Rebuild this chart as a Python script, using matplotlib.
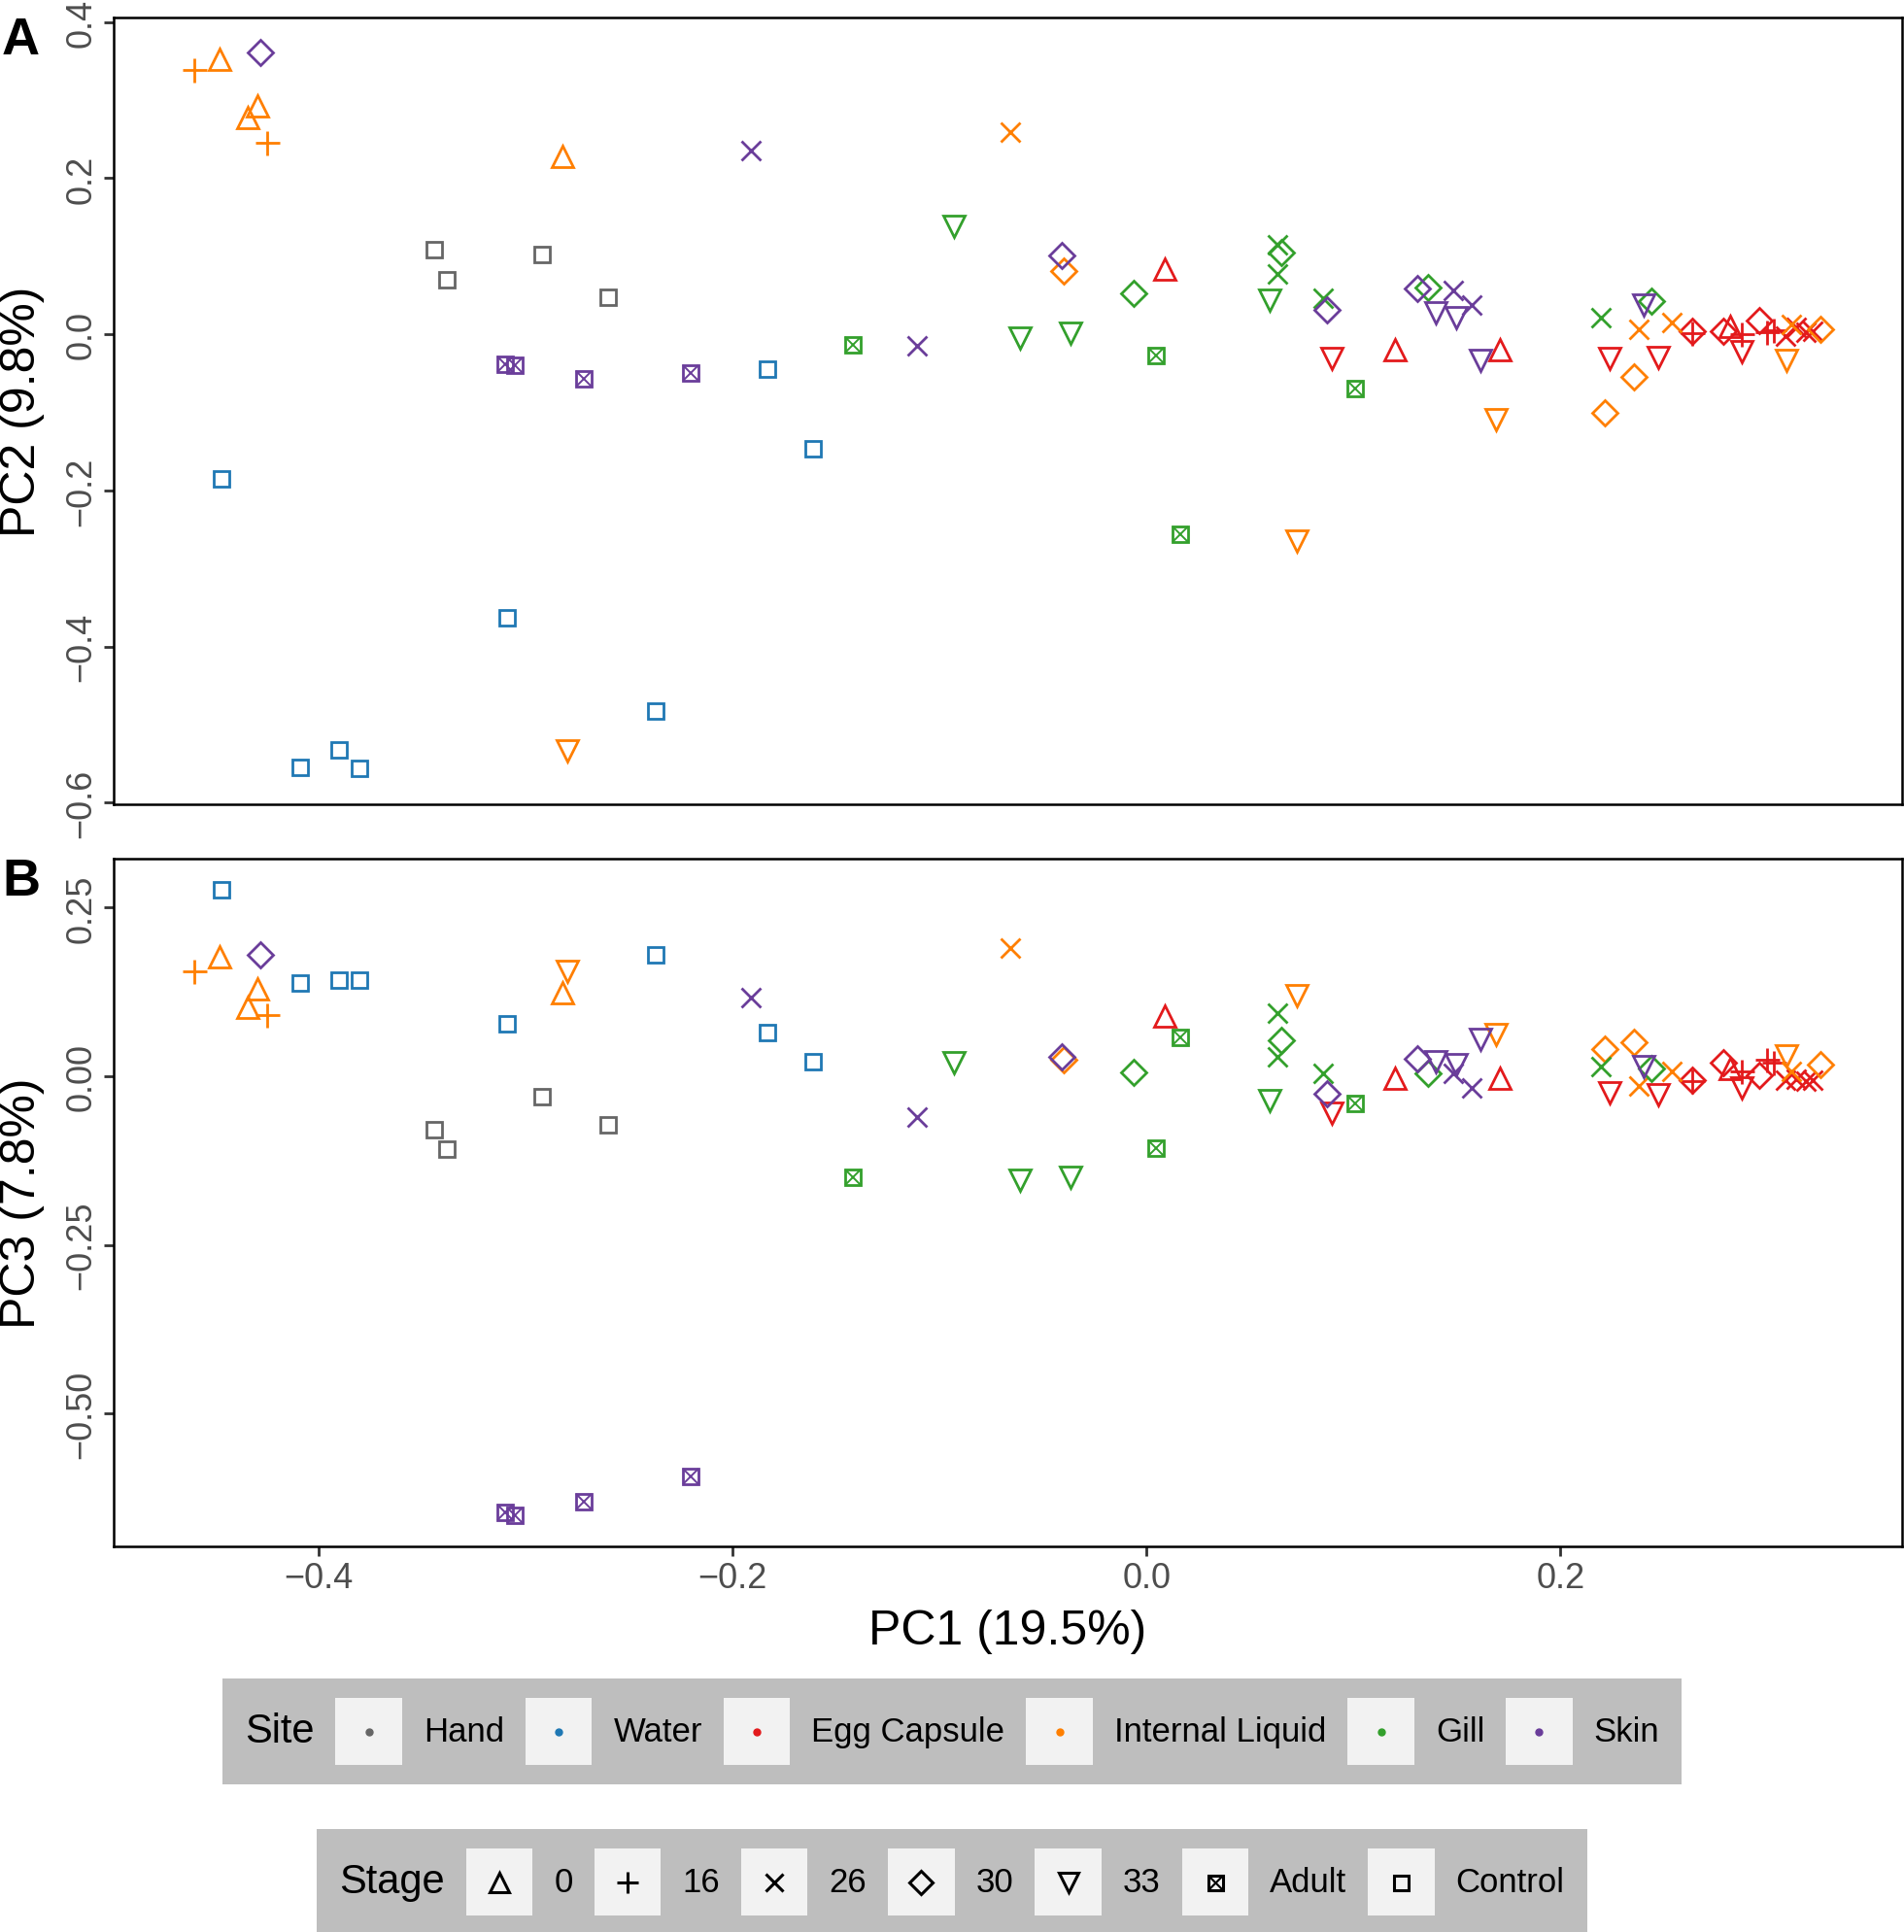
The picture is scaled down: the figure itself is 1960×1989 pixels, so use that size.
import matplotlib

matplotlib.use("Agg")

import matplotlib.pyplot as plt
from matplotlib.patches import Rectangle


plt.rcParams["font.family"] = ["Liberation Sans", "DejaVu Sans"]


# ============================================================
# Data
# ============================================================

site = (
    ["Hand"] * 4
    + ["Water"] * 8
    + ["Egg Capsule"] * 19
    + ["Internal Liquid"] * 18
    + ["Gill"] * 16
    + ["Skin"] * 16
)

stage = [
    # Hand
    "Control", "Control", "Control", "Control",
    # Water
    "Control", "Control", "Control", "Control",
    "Control", "Control", "Control", "Control",
    # Egg Capsule
    "0", "0", "0", "0", "33", "33", "33", "33", "30", "16",
    "30", "16", "30", "16", "16", "26", "26", "26", "26",
    # Internal Liquid
    "16", "0", "0", "0", "16", "0", "33", "26", "30",
    "33", "33", "30", "30", "26", "26", "33", "26", "30",
    # Gill
    "33", "Adult", "33", "33", "30", "Adult", "Adult", "33",
    "26", "30", "26", "26", "Adult", "30", "26", "30",
    # Skin
    "30", "Adult", "Adult", "Adult", "Adult", "26", "26", "30",
    "30", "30", "26", "26", "33", "33", "33", "33",
]

pc1 = [
    -0.344, -0.338, -0.292, -0.260,
    -0.447, -0.409, -0.390, -0.380, -0.309, -0.237, -0.183, -0.161,
    0.009, 0.120, 0.1705, 0.282, 0.0896, 0.2238, 0.2473, 0.2875, 0.2635, 0.2635,
    0.2785, 0.2874, 0.296, 0.2999, 0.303, 0.3085, 0.314, 0.3186, 0.3218,
    -0.460, -0.4476, -0.4296, -0.434, -0.425, -0.282, -0.280, -0.066, -0.040,
    0.0727, 0.1687, 0.2214, 0.2357, 0.2376, 0.2536, 0.3093, 0.3116, 0.3257,
    -0.093, -0.1418, -0.061, -0.0365, -0.006, 0.0046, 0.0165, 0.0595,
    0.0631, 0.065, 0.0631, 0.0855, 0.1006, 0.1358, 0.2193, 0.244,
    -0.428, -0.310, -0.305, -0.272, -0.220, -0.191, -0.111, -0.041,
    0.087, 0.1307, 0.148, 0.1573, 0.1397, 0.1498, 0.1615, 0.240,
]

pc2 = [
    0.108, 0.070, 0.102, 0.047,
    -0.185, -0.555, -0.532, -0.556, -0.363, -0.483, -0.044, -0.146,
    0.083, -0.020, -0.020, 0.010, -0.031, -0.031, -0.029, -0.022, 0.004, 0.001,
    0.004, 0.000, 0.018, 0.003, 0.005, -0.002, 0.009, 0.003, 0.004,
    0.339, 0.353, 0.293, 0.2775, 0.245, 0.228, -0.534, 0.259, 0.081,
    -0.265, -0.109, -0.100, -0.054, 0.007, 0.015, -0.033, 0.013, 0.006,
    0.138, -0.014, -0.005, 0.002, 0.052, -0.027, -0.256, 0.044,
    0.1145, 0.105, 0.078, 0.046, -0.070, 0.0605, 0.021, 0.042,
    0.361, -0.038, -0.040, -0.0565, -0.050, 0.2356, -0.015, 0.101,
    0.0315, 0.0585, 0.0564, 0.0377, 0.0274, 0.0212, -0.033, 0.0377,
]

pc3 = [
    -0.079, -0.108, -0.030, -0.072,
    0.277, 0.138, 0.142, 0.142, 0.078, 0.180, 0.065, 0.022,
    0.090, -0.003, -0.003, 0.012, -0.055, -0.024, -0.027, -0.017, -0.005, -0.007,
    0.020, 0.007, 0.002, 0.024, 0.020, -0.005, -0.004, -0.007, -0.006,
    0.155, 0.177, 0.129, 0.103, 0.091, 0.124, 0.156, 0.190, 0.024,
    0.120, 0.062, 0.041, 0.050, -0.015, 0.007, 0.031, 0.007, 0.017,
    0.020, -0.150, -0.154, -0.150, 0.006, -0.106, 0.057, -0.036,
    0.094, 0.053, 0.029, 0.005, -0.040, 0.005, 0.015, 0.012,
    0.180, -0.647, -0.651, -0.631, -0.594, 0.117, -0.060, 0.029,
    -0.026, 0.026, 0.005, -0.017, 0.022, 0.017, 0.055, 0.014,
]

site_order = ["Hand", "Water", "Egg Capsule", "Internal Liquid", "Gill", "Skin"]
site_colors = ["#666666", "#1f78b4", "#e31a1c", "#ff7f00", "#33a02c", "#6a3d9a"]
stage_order = ["0", "16", "26", "30", "33", "Adult", "Control"]

pc1_label = "PC1 (19.5%)"
pc2_label = "PC2 (9.8%)"
pc3_label = "PC3 (7.8%)"


# marker and size (pt) for each stage, mimicking ggplot open shapes
MARKERS = {
    "0": ("^", 16),
    "16": ("+", 18),
    "26": ("x", 14),
    "30": ("D", 13.5),
    "33": ("v", 16),
    "Adult": ("s", 12),
    "Control": ("s", 12),
}


def draw_marker(ax, x, y, st, color, scale=1.0, mew=2.0):
    marker, size = MARKERS[st]
    ax.plot(x, y, marker=marker, ms=size * scale, mfc="none",
            mec=color, mew=mew, ls="none")
    if st == "Adult":
        ax.plot(x, y, marker="x", ms=size * scale, mec=color,
                mew=mew * 0.7, ls="none")


def draw_points(ax, yvals):
    for s, st, x, y in zip(site, stage, pc1, yvals):
        color = site_colors[site_order.index(s)]
        draw_marker(ax, x, y, st, color)


def style_axes(ax):
    for spine in ax.spines.values():
        spine.set_linewidth(1.8)
        spine.set_color("black")
    ax.tick_params(length=7, width=2, color="#333333",
                   labelsize=26, labelcolor="#4d4d4d", pad=4)
    ax.tick_params(axis="y", labelrotation=90)
    plt.setp(ax.get_yticklabels(), va="center")


# ============================================================
# Figure
# ============================================================

fig = plt.figure(figsize=(19.6, 19.9), dpi=100)

ax_a = fig.add_axes([0.0596, 0.5834, 0.9394, 0.4071])
ax_b = fig.add_axes([0.0596, 0.1995, 0.9394, 0.3559])

draw_points(ax_a, pc2)
draw_points(ax_b, pc3)

ax_a.set_xlim(-0.4990, 0.3650)
ax_b.set_xlim(-0.4990, 0.3650)
ax_a.set_ylim(-0.602, 0.406)
ax_b.set_ylim(-0.697, 0.323)

ax_a.set_yticks([-0.6, -0.4, -0.2, 0.0, 0.2, 0.4])
ax_b.set_yticks([-0.5, -0.25, 0.0, 0.25])
ax_b.set_xticks([-0.4, -0.2, 0.0, 0.2])
ax_a.set_xticks([])

style_axes(ax_a)
style_axes(ax_b)

ax_b.set_xlabel(pc1_label, fontsize=36, labelpad=10)

for ax, lab, letter in [(ax_a, pc2_label, "A"), (ax_b, pc3_label, "B")]:
    pos = ax.get_position()
    fig.text(23 / 1960, pos.y0 + pos.height / 2, lab, rotation=90,
             ha="center", va="center", fontsize=36)
    fig.text(0.001, pos.y1 + 0.001, letter, fontsize=39,
             fontweight="bold", ha="left", va="top")


# ============================================================
# Legends (two horizontal boxes under the panels)
# ============================================================

leg_ax = fig.add_axes([0, 0, 1, 1])
leg_ax.set_xlim(0, 1960)
leg_ax.set_ylim(1990, 0)
leg_ax.axis("off")

renderer = fig.canvas.get_renderer()


def text_width(s, size):
    t = leg_ax.text(0, 0, s, fontsize=size)
    w = t.get_window_extent(renderer).width
    t.remove()
    return w


def draw_legend(top, title, labels, draw_key):
    pad, gap, key, height = 23, 22, 68.5, 109
    title_w = text_width(title, 30)
    label_ws = [text_width(lab, 25) for lab in labels]
    total = pad + title_w + sum(2 * gap + key + w for w in label_ws) + pad
    x0 = (1960 - total) / 2
    leg_ax.add_patch(Rectangle((x0, top), total, height,
                               fc="#bebebe", ec="none"))
    yc = top + height / 2
    leg_ax.text(x0 + pad, yc, title, fontsize=30, ha="left", va="center")
    x = x0 + pad + title_w
    for i, (lab, w) in enumerate(zip(labels, label_ws)):
        x += gap
        leg_ax.add_patch(Rectangle((x, yc - key / 2), key, key,
                                   fc="#f2f2f2", ec="none"))
        draw_key(i, x + key / 2, yc)
        x += key + gap
        leg_ax.text(x, yc, lab, fontsize=25, ha="left", va="center")
        x += w


def site_key(i, cx, cy):
    leg_ax.plot(cx, cy, "o", ms=5, color=site_colors[i])


def stage_key(i, cx, cy):
    draw_marker(leg_ax, cx, cy, stage_order[i], "black", scale=0.9, mew=2.2)


draw_legend(1729, "Site", site_order, site_key)
draw_legend(1884, "Stage", stage_order, stage_key)

fig.savefig("out.png", dpi=100)
